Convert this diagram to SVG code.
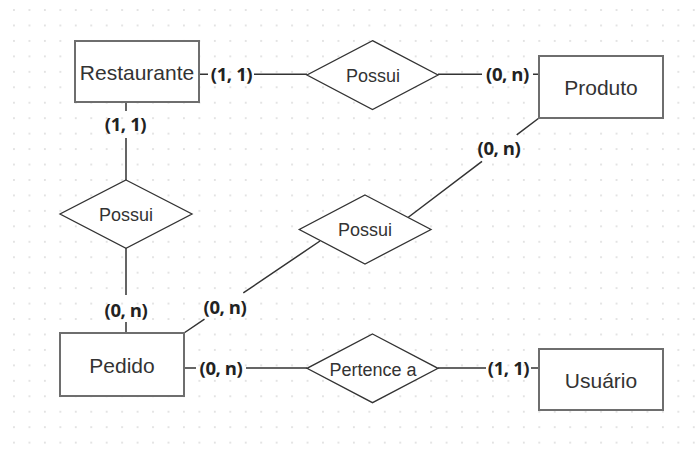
<svg xmlns="http://www.w3.org/2000/svg" width="700" height="457" viewBox="0 0 700 457">
<defs>
<pattern id="grid" patternUnits="userSpaceOnUse" x="6.3" y="2.3" width="15.45" height="15.45">
<circle cx="7.7" cy="7.7" r="0.75" fill="#bdbdbd"/>
</pattern>
</defs>
<style>
.ent{fill:#fff;stroke:#6e6e6e;stroke-width:2}
.rel{fill:#fff;stroke:#333;stroke-width:1.3}
.et{font-family:"Liberation Sans",Arial,sans-serif;font-size:21px;fill:#333;text-anchor:middle}
.rt{font-family:"Liberation Sans",Arial,sans-serif;font-size:18px;fill:#333;text-anchor:middle}
.lb{font-family:"Open Sans","Liberation Sans",sans-serif;font-size:18.5px;font-weight:bold;fill:#222;text-anchor:middle;letter-spacing:-0.4px}
.cn{stroke:#333;stroke-width:1.5;fill:none}
</style>
<rect width="700" height="457" fill="#fff"/>
<rect width="700" height="457" fill="url(#grid)"/>

<g id="connectors">
<path class="cn" d="M199 74.3H208M254 74.3H307"/>
<path class="cn" d="M438 74.3H482M533 74.3H539"/>
<path class="cn" d="M126 102V111M126 138V180"/>
<path class="cn" d="M126 248V295M126 322V333"/>
<path class="cn" d="M184 333L204.5 319.1M243.3 292.9L320 241"/>
<path class="cn" d="M408 217.5L482 161.3M516.7 134.9L539 118"/>
<path class="cn" d="M184 368H196M246 368H307"/>
<path class="cn" d="M438 368H486M531 368H539"/>
</g>

<g id="restaurante">
<rect class="ent" x="75" y="41" width="124" height="61"/>
<text class="et" x="137" y="80">Restaurante</text>
</g>
<g id="produto">
<rect class="ent" x="539" y="56" width="124" height="62"/>
<text class="et" x="601" y="94.5">Produto</text>
</g>
<g id="pedido">
<rect class="ent" x="60" y="333" width="124" height="63"/>
<text class="et" x="122" y="372.5">Pedido</text>
</g>
<g id="usuario">
<rect class="ent" x="539" y="349" width="124" height="61"/>
<text class="et" x="601" y="387.5">Usuário</text>
</g>

<g id="possui-restaurante-produto">
<polygon class="rel" points="372.5,40.7 438,75 372.5,109.5 307,75"/>
<text class="rt" x="373" y="81.5">Possui</text>
</g>
<g id="possui-restaurante-pedido">
<polygon class="rel" points="126,180 192,214 126,248.3 60,214"/>
<text class="rt" x="126" y="221">Possui</text>
</g>
<g id="possui-pedido-produto">
<polygon class="rel" points="365,195 431,229.5 365,264 299.3,229.5"/>
<text class="rt" x="365" y="236">Possui</text>
</g>
<g id="pertence">
<polygon class="rel" points="372.5,334 438,368.3 372.5,402.7 307,368.3"/>
<text class="rt" x="373" y="375.5">Pertence a</text>
</g>

<g id="labels">
<text class="lb" x="231.5" y="81">(1, 1)</text>
<text class="lb" x="507.5" y="81">(0, n)</text>
<text class="lb" x="125.5" y="130.5">(1, 1)</text>
<text class="lb" x="499" y="154.5">(0, n)</text>
<text class="lb" x="225" y="313.5">(0, n)</text>
<text class="lb" x="126" y="316.5">(0, n)</text>
<text class="lb" x="221" y="374.5">(0, n)</text>
<text class="lb" x="508.5" y="374.5">(1, 1)</text>
</g>
</svg>
